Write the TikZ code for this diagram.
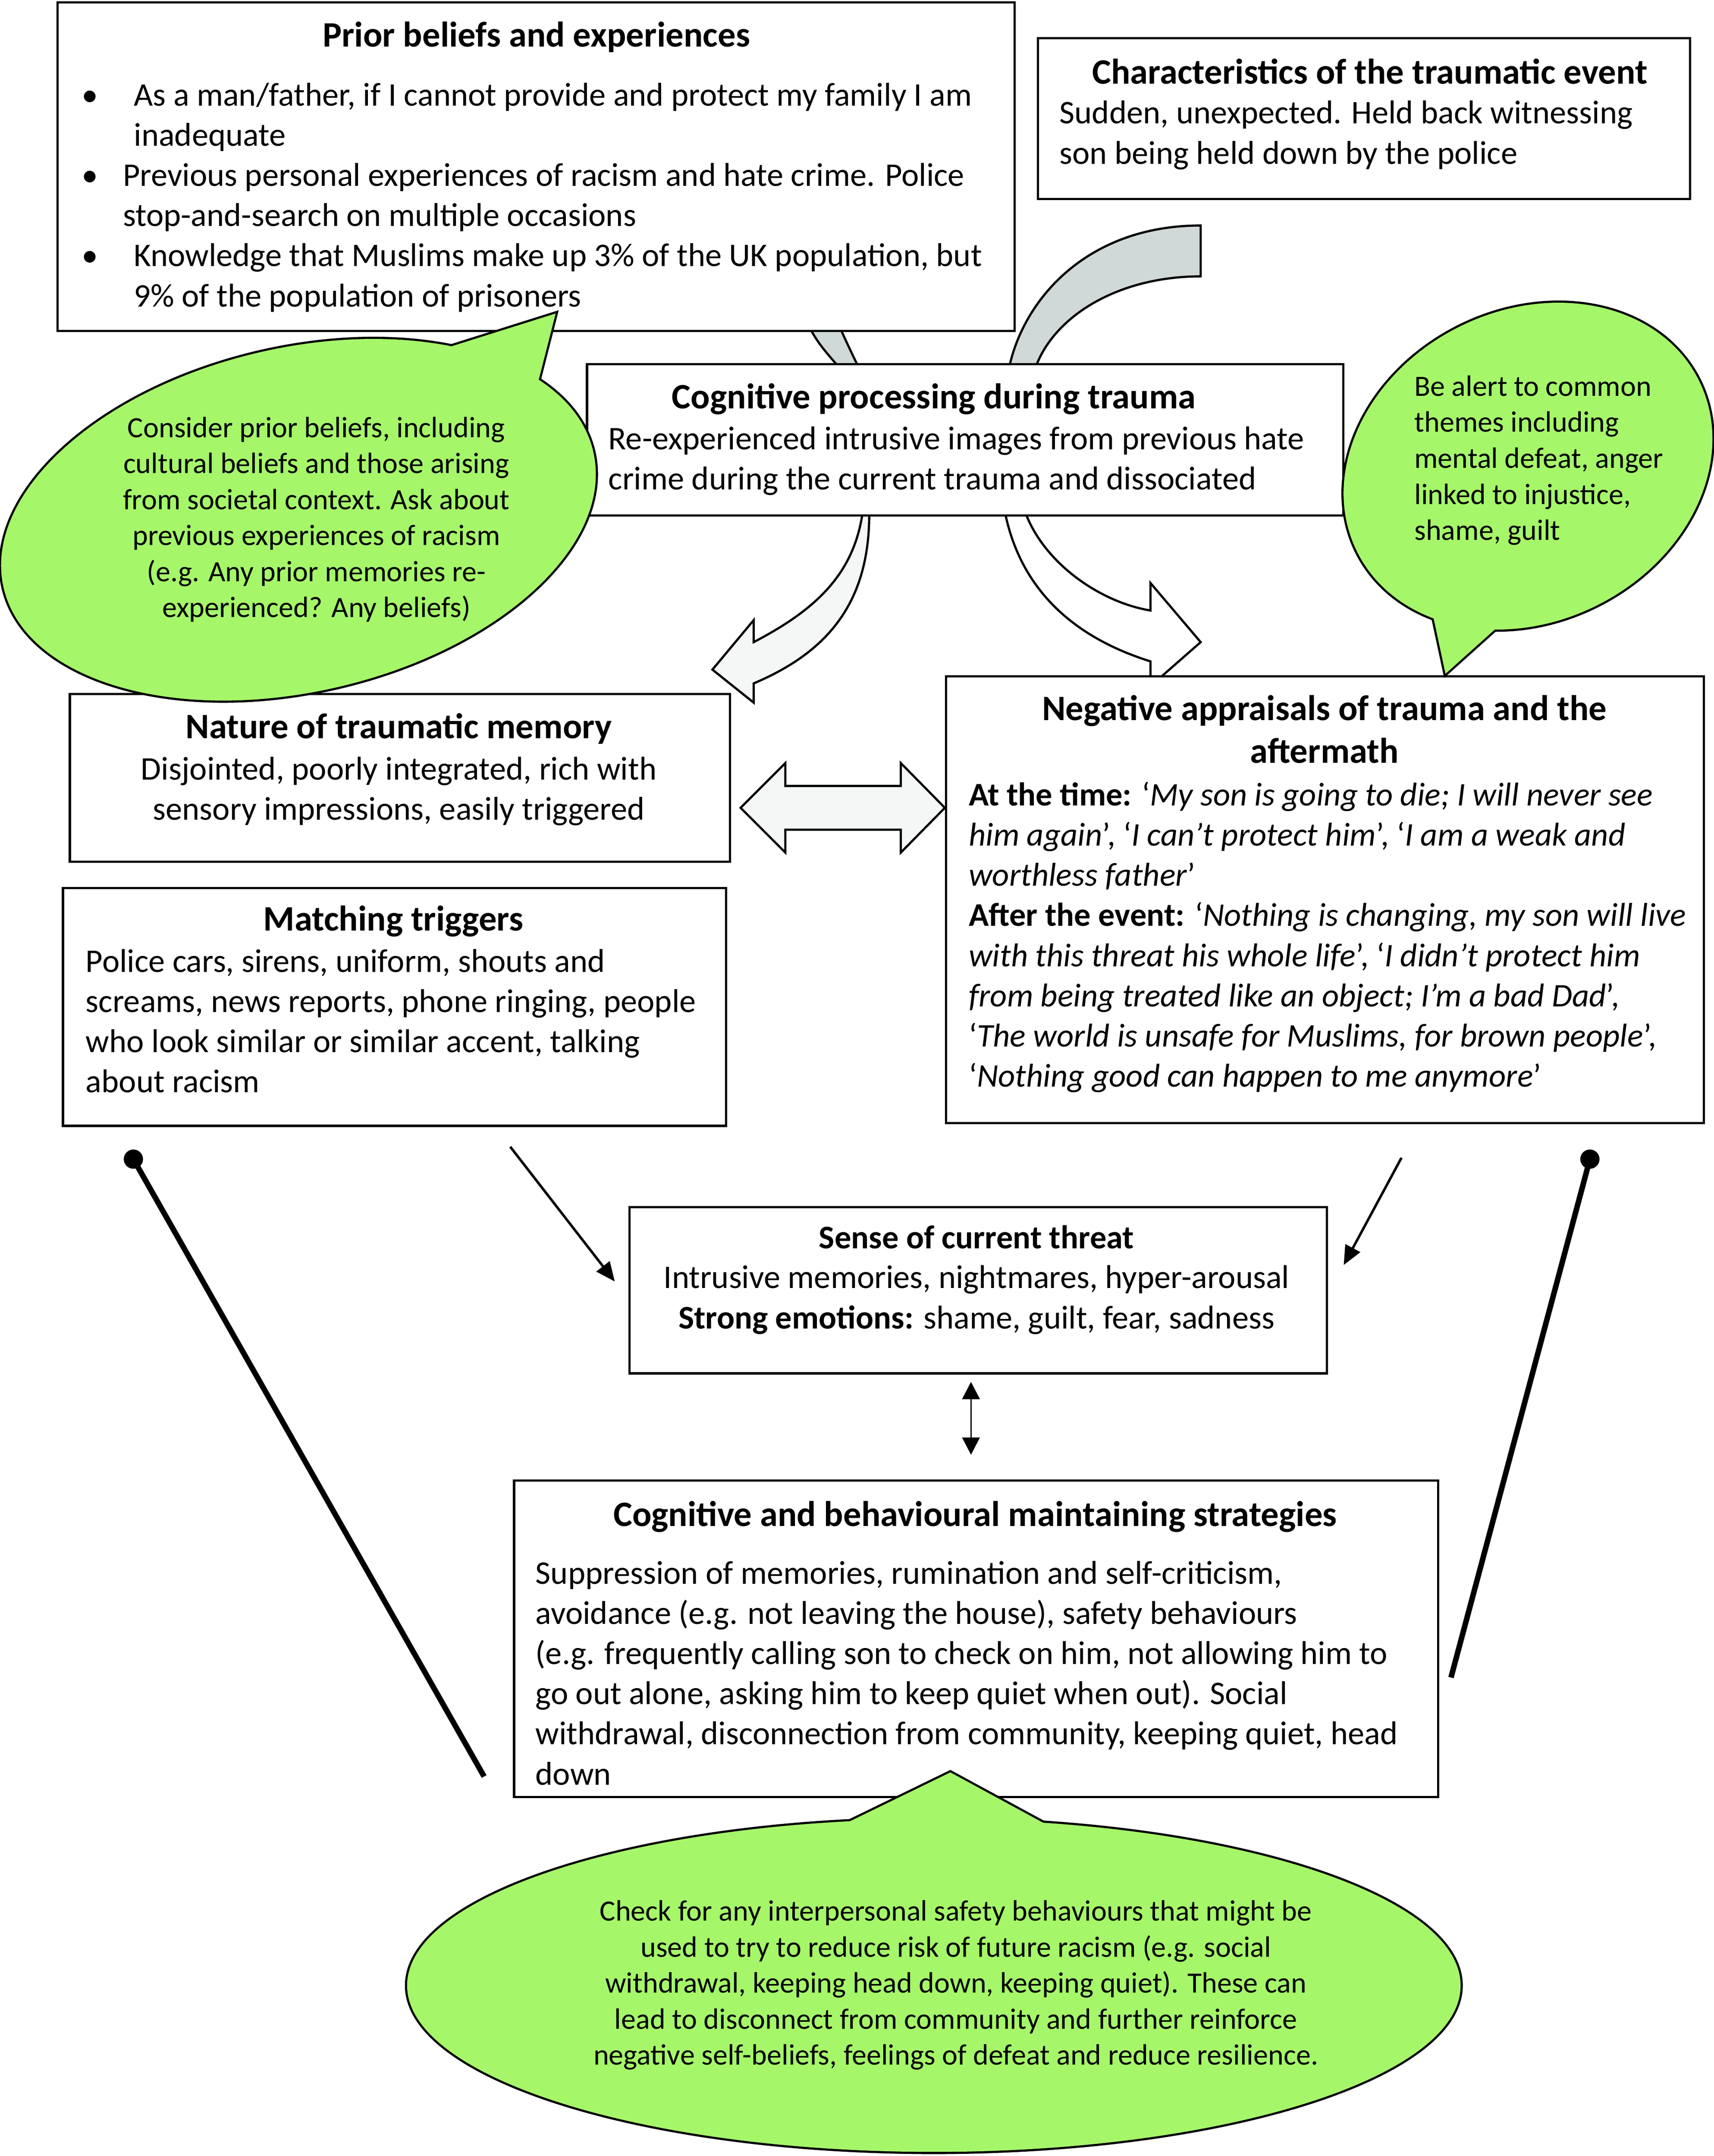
\documentclass[tikz,border=0pt]{standalone}
\usepackage{fontspec}
\setmainfont{Carlito}
\usetikzlibrary{arrows.meta}
\definecolor{bubble}{RGB}{166,246,106}
\definecolor{arrgrey}{RGB}{208,216,216}
\definecolor{arrlight}{RGB}{245,247,247}
\newcommand{\LLines}[1]{\vtop{\halign{##\hfil\cr#1\crcr}}}
\newcommand{\CLines}[1]{\vtop{\halign{\hfil##\hfil\cr#1\crcr}}}
\begin{document}
\begin{tikzpicture}[x=0.5pt,y=-0.5pt,
 box/.style={draw=black, line width=0.8pt, fill=white, rectangle, inner sep=0pt, anchor=north west},
 body/.style={inner sep=0pt, font=\fontsize{12}{14.6}\selectfont},
 title/.style={inner sep=0pt, font=\fontsize{13}{15.5}\selectfont\bfseries},
 note/.style={inner sep=0pt, font=\fontsize{10.7}{13.1}\selectfont},
 blockarrow/.style={draw=black, line width=0.8pt, line join=miter},
 thinarrow/.style={draw=black, line width=0.9pt, -{Triangle[length=7pt,width=6pt]}},
 twoway/.style={draw=black, line width=0.5pt, {Triangle[length=6.3pt,width=6.4pt]}-{Triangle[length=6.3pt,width=6.4pt]}},
 balllink/.style={draw=black, line width=2pt},
 bubbleline/.style={draw=black, line width=1.6pt, line join=miter}
]
\fill[white] (0,0) rectangle (1246,1568);
\useasboundingbox (0,0) rectangle (1246,1568);

% block arrows behind the boxes
\path[blockarrow, fill=arrgrey] (873,164) .. controls (785,164) and (738,225) .. (732,278) -- (750,278) .. controls (758,235) and (808,201) .. (873,201) -- cycle;
\path[blockarrow, fill=arrgrey] (584,230) .. controls (595,250) .. (617,275) -- (628,275) .. controls (616,250) .. (607,230) -- cycle;
\path[blockarrow, fill=arrlight] (627,366) -- (627,374) .. controls (620,420) and (590,445) .. (548,467) -- (548,451) -- (518,487) -- (548,511) -- (548,497) .. controls (600,475) and (632,440) .. (632,374) -- (632,366) -- cycle;
\path[blockarrow, fill=white] (731,366) -- (731,374) .. controls (745,440) and (795,468) .. (836.5,481) -- (836.5,499) -- (873,467) -- (836.5,424) -- (836.5,444) .. controls (800,438) and (760,410) .. (746,374) -- (746,366) -- cycle;

% boxes
\node[box, minimum width=348pt, minimum height=119.5pt] (prior) at (41,1) {};
\node[box, minimum width=237pt, minimum height=58.5pt] (charac) at (754,27) {};
\node[box, minimum width=275pt, minimum height=55pt] (cogproc) at (426,264) {};
\node[box, minimum width=240pt, minimum height=61pt] (nature) at (50,504) {};
\node[box, minimum width=241pt, minimum height=86.5pt] (match) at (45,645) {};
\node[box, minimum width=275.5pt, minimum height=162.5pt] (negapp) at (687,491) {};
\node[box, minimum width=253.5pt, minimum height=60.5pt] (sense) at (457,877) {};
\node[box, minimum width=336pt, minimum height=115pt] (maint) at (373,1076) {};

% texts
\node[title, anchor=base] (priorT) at (390,34) {Prior beliefs and experiences};
\node[body, anchor=base west] (priorB) at (59,77) {\LLines{%
\rlap{\textbullet}\kern19pt As a man/father, if I cannot provide and protect my family I am\cr
\kern19pt inadequate\cr
\rlap{\textbullet}\kern15pt Previous personal experiences of racism and hate crime. Police\cr
\kern15pt stop-and-search on multiple occasions\cr
\rlap{\textbullet}\kern19pt Knowledge that Muslims make up 3\% of the UK population, but\cr
\kern19pt 9\% of the population of prisoners}};

\node[title, anchor=base] (characT) at (996,61) {Characteristics of the traumatic event};
\node[body, anchor=base west] (characB) at (770,90) {\LLines{Sudden, unexpected. Held back witnessing\cr son being held down by the police}};

\node[title, anchor=base] (cogprocT) at (679,297) {Cognitive processing during trauma};
\node[body, anchor=base west] (cogprocB) at (442,327) {\LLines{Re-experienced intrusive images from previous hate\cr crime during the current trauma and dissociated}};

\node[title, anchor=base] (natureT) at (290,537) {Nature of traumatic memory};
\node[body, anchor=base] (natureB) at (290,567) {\CLines{Disjointed, poorly integrated, rich with\cr sensory impressions, easily triggered}};

\node[title, anchor=base] (matchT) at (286,677) {Matching triggers};
\node[body, anchor=base west] (matchB) at (62,707) {\LLines{Police cars, sirens, uniform, shouts and\cr screams, news reports, phone ringing, people\cr who look similar or similar accent, talking\cr about racism}};

\node[title, anchor=base] (negappT) at (963,524) {\CLines{Negative appraisals of trauma and the\cr aftermath}};
\node[body, anchor=base west] (negappB) at (704,586) {\LLines{%
\textbf{At the time:} ‘\textit{My son is going to die; I will never see}\cr
\textit{him again}’, ‘\textit{I can’t protect him}’, ‘\textit{I am a weak and}\cr
\textit{worthless father}’\cr
\textbf{After the event:} ‘\textit{Nothing is changing, my son will live}\cr
\textit{with this threat his whole life}’, ‘\textit{I didn’t protect him}\cr
\textit{from being treated like an object; I’m a bad Dad}’,\cr
‘\textit{The world is unsafe for Muslims, for brown people}’,\cr
‘\textit{Nothing good can happen to me anymore}’}};

\node[body, anchor=base] (senseT) at (710,908) {\textbf{Sense of current threat}};
\node[body, anchor=base] (senseB) at (710,937) {\CLines{Intrusive memories, nightmares, hyper-arousal\cr \textbf{Strong emotions:} shame, guilt, fear, sadness}};

\node[title, anchor=base] (maintT) at (709,1110) {Cognitive and behavioural maintaining strategies};
\node[body, anchor=base west] (maintB) at (389,1152) {\LLines{%
Suppression of memories, rumination and self-criticism,\cr
avoidance (e.g. not leaving the house), safety behaviours\cr
(e.g. frequently calling son to check on him, not allowing him to\cr
go out alone, asking him to keep quiet when out). Social\cr
withdrawal, disconnection from community, keeping quiet, head\cr
down}};

% callout bubbles (outline of union: thick outline, then fill)
\path[bubbleline, rotate around={13:(217,378)}] (217,378) ellipse [x radius=220, y radius=125];
\path[bubbleline] (404,228) -- (316.4,255.6) -- (389.6,284.4) -- cycle;
\fill[bubble, rotate around={13:(217,378)}] (217,378) ellipse [x radius=220, y radius=125];
\fill[bubble] (404,228) -- (316.4,255.6) -- (389.6,284.4) -- cycle;

\path[bubbleline, rotate around={27:(1111,339)}] (1111,339) ellipse [x radius=139, y radius=113];
\path[bubbleline] (1051,490) -- (1040.2,439.6) -- (1097.8,448) -- cycle;
\fill[bubble, rotate around={27:(1111,339)}] (1111,339) ellipse [x radius=139, y radius=113];
\fill[bubble] (1051,490) -- (1040.2,439.6) -- (1097.8,448) -- cycle;

\path[bubbleline] (679,1444) ellipse [x radius=383, y radius=121];
\path[bubbleline] (691,1289) -- (599.8,1333.4) -- (775,1334.6) -- cycle;
\fill[bubble] (679,1444) ellipse [x radius=383, y radius=121];
\fill[bubble] (691,1289) -- (599.8,1333.4) -- (775,1334.6) -- cycle;

\node[note, anchor=base] (noteL) at (230,318) {\CLines{Consider prior beliefs, including\cr cultural beliefs and those arising\cr from societal context. Ask about\cr previous experiences of racism\cr (e.g. Any prior memories re-\cr experienced? Any beliefs)}};
\node[note, anchor=base west] (noteR) at (1028,288) {\LLines{Be alert to common\cr themes including\cr mental defeat, anger\cr linked to injustice,\cr shame, guilt}};
\node[note, anchor=base] (noteB) at (695,1397) {\CLines{Check for any interpersonal safety behaviours that might be\cr used to try to reduce risk of future racism (e.g. social\cr withdrawal, keeping head down, keeping quiet). These can\cr lead to disconnect from community and further reinforce\cr negative self-beliefs, feelings of defeat and reduce resilience.}};

% double block arrow
\path[blockarrow, fill=arrlight] (538.5,587.5) -- (571,555) -- (571,571.6) -- (655,571.6) -- (655,555) -- (687,587.5) -- (655,620) -- (655,603.4) -- (571,603.4) -- (571,620) -- cycle;

% thin arrows
\coordinate (ta1) at (371,834);
\coordinate (ta2) at (447,932);
\coordinate (tb1) at (1019,842);
\coordinate (tb2) at (977,920);
\coordinate (tc1) at (706,1005);
\coordinate (tc2) at (706,1058);
\draw[thinarrow] (ta1) -- (ta2);
\draw[thinarrow] (tb1) -- (tb2);
\draw[twoway] (tc1) -- (tc2);

% ball-ended links
\coordinate (la1) at (97,843);
\coordinate (la2) at (352,1292);
\coordinate (lb1) at (1156,843);
\coordinate (lb2) at (1055,1220);
\draw[balllink] (la1) -- (la2);
\draw[balllink] (lb1) -- (lb2);
\fill (la1) circle [radius=7];
\fill (lb1) circle [radius=7];
\end{tikzpicture}
\end{document}
